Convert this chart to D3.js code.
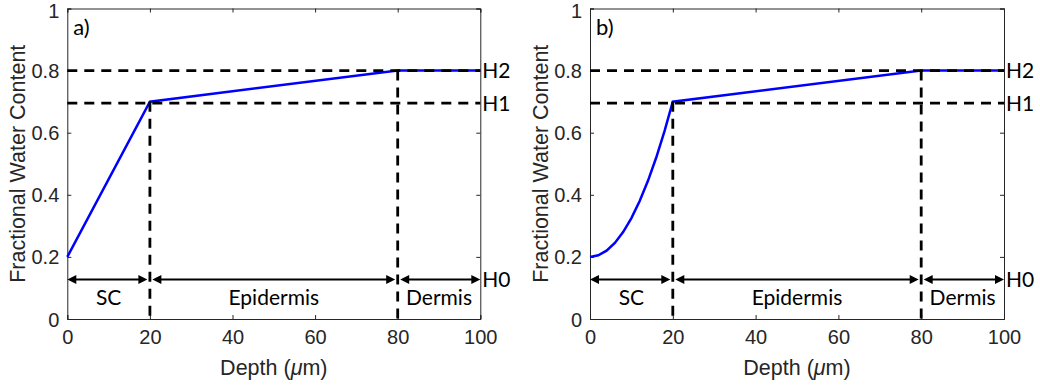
<!DOCTYPE html>
<html>
<head>
<meta charset="utf-8">
<script src="https://cdn.jsdelivr.net/npm/d3@7"></script>
<style>
  body { margin: 0; background: #fff; }
  .tick text { font-family: "Liberation Sans", Arial, sans-serif; font-size: 20px; fill: #262626; }
  .axis-title { font-family: "Liberation Sans", Arial, sans-serif; font-size: 21.5px; fill: #262626; }
  .note { font-family: Lato, "Open Sans", sans-serif; font-size: 21px; fill: #000; }
</style>
</head>
<body>
<div id="chart"></div>
<script>
// panel data
const panelNames = ["a)", "b)"];
const xTicks = [0, 20, 40, 60, 80, 100];
const yTicks = [0, 0.2, 0.4, 0.6, 0.8, 1];

// water content profile, panel a (linear)
const depthA = [0, 20, 80, 100];
const waterA = [0.2, 0.7, 0.8, 0.8];

// water content profile, panel b (curved SC part)
const depthB = [0, 2, 4, 6, 8, 10, 12, 14, 16, 18, 20, 80, 100];
const waterB = [0.2, 0.205, 0.22, 0.245, 0.28, 0.325, 0.38, 0.445, 0.52, 0.605, 0.7, 0.8, 0.8];

// hydration levels and layer boundaries
const levelNames = ["H2", "H1", "H0"];
const levelValues = [0.8, 0.695, 0.127];
const boundaries = [20, 80];
const boundaryTops = [0.7, 0.8];
const layerNames = ["SC", "Epidermis", "Dermis"];
const layerStart = [0, 20, 80];
const layerEnd = [20, 80, 100];

const W = 1040, H = 385;
const svg = d3.select("#chart").append("svg")
    .attr("width", W)
    .attr("height", H);

const panels = [
  {left: 67.3, right: 480.3, depth: depthA, water: waterA},
  {left: 590, right: 1004, depth: depthB, water: waterB}
];
const yTop = 8.5, yBottom = 319;

panels.forEach((p, i) => {
  const x = d3.scaleLinear().domain([0, 100]).range([p.left, p.right]);
  const y = d3.scaleLinear().domain([0, 1]).range([yBottom, yTop]);
  const g = svg.append("g");

  // axes, ticks inside the box (matlab style)
  const xAx = g.append("g").attr("transform", `translate(0,${yBottom})`)
      .call(d3.axisBottom(x).tickValues(xTicks).tickSize(-4).tickPadding(11).tickFormat(d3.format("d")));
  const xTopAx = g.append("g").attr("transform", `translate(0,${yTop})`)
      .call(d3.axisTop(x).tickValues(xTicks).tickSize(-4).tickFormat(""));
  const yAx = g.append("g").attr("transform", `translate(${p.left},0)`)
      .call(d3.axisLeft(y).tickValues(yTicks).tickSize(-4).tickPadding(8).tickFormat(d => d === 0 || d === 1 ? d : d3.format(".1f")(d)));
  const yRight = g.append("g").attr("transform", `translate(${p.right},0)`)
      .call(d3.axisRight(y).tickValues(yTicks).tickSize(-4).tickFormat(""));
  [xAx, xTopAx, yAx, yRight].forEach(a => {
    a.select(".domain").attr("stroke", "#262626");
    a.selectAll(".tick line").attr("stroke", "#262626");
  });
  xAx.selectAll(".tick text").attr("dy", "0.71em");
  yAx.selectAll(".tick text").attr("dy", d => d === 1 ? "0.45em" : "0.35em");

  g.append("text").attr("class", "axis-title")
      .attr("x", (p.left + p.right) / 2)
      .attr("y", 375)
      .attr("text-anchor", "middle")
      .html("Depth (<tspan font-style='italic'>\u03bc</tspan>m)");
  g.append("text").attr("class", "axis-title")
      .attr("transform", `translate(${p.left - 42},${(yTop + yBottom) / 2}) rotate(-90)`)
      .attr("text-anchor", "middle")
      .text("Fractional Water Content");

  // blue profile
  const pts = p.depth.map((d, k) => [d, p.water[k]]);
  g.append("path")
      .datum(pts)
      .attr("fill", "none")
      .attr("stroke", "#0000ff")
      .attr("stroke-width", 2.5)
      .attr("d", d3.line().x(d => x(d[0])).y(d => y(d[1])));

  // dashed level lines H2, H1
  levelValues.slice(0, 2).forEach(v => {
    g.append("line")
        .attr("x1", x(0)).attr("x2", x(100))
        .attr("y1", y(v)).attr("y2", y(v))
        .attr("stroke", "#000").attr("stroke-width", 2.8)
        .attr("stroke-dasharray", "10,7");
  });
  // dashed boundaries
  boundaries.forEach((b, k) => {
    g.append("line")
        .attr("x1", x(b)).attr("x2", x(b))
        .attr("y1", y(boundaryTops[k])).attr("y2", y(0))
        .attr("stroke", "#000").attr("stroke-width", 2.8)
        .attr("stroke-dasharray", "10,7");
  });

  // level labels
  levelNames.forEach((n, k) => {
    g.append("text").attr("class", "note")
        .attr("x", p.right + 2)
        .attr("y", y(levelValues[k]))
        .attr("dy", "0.35em")
        .text(n);
  });

  // double arrows for the layers
  const ay = y(levelValues[2]);
  const head = 9, half = 4.5, inset = 2.5;
  layerNames.forEach((n, k) => {
    const x1 = x(layerStart[k]) + (k === 0 ? 0 : inset);
    const x2 = x(layerEnd[k]) - (k === 2 ? 0 : inset);
    g.append("line")
        .attr("x1", x1 + head - 1).attr("x2", x2 - head + 1)
        .attr("y1", ay).attr("y2", ay)
        .attr("stroke", "#000").attr("stroke-width", 2);
    g.append("path")
        .attr("d", `M${x1},${ay}L${x1 + head},${ay - half}L${x1 + head},${ay + half}Z`)
        .attr("fill", "#000");
    g.append("path")
        .attr("d", `M${x2},${ay}L${x2 - head},${ay - half}L${x2 - head},${ay + half}Z`)
        .attr("fill", "#000");
    g.append("text").attr("class", "note")
        .attr("x", (x(layerStart[k]) + x(layerEnd[k])) / 2)
        .attr("y", ay + 25)
        .attr("text-anchor", "middle")
        .text(n);
  });

  g.append("text").attr("class", "note")
      .attr("x", p.left + 6)
      .attr("y", 35)
      .style("font-size", "22px")
      .text(panelNames[i]);
});
</script>
</body>
</html>
